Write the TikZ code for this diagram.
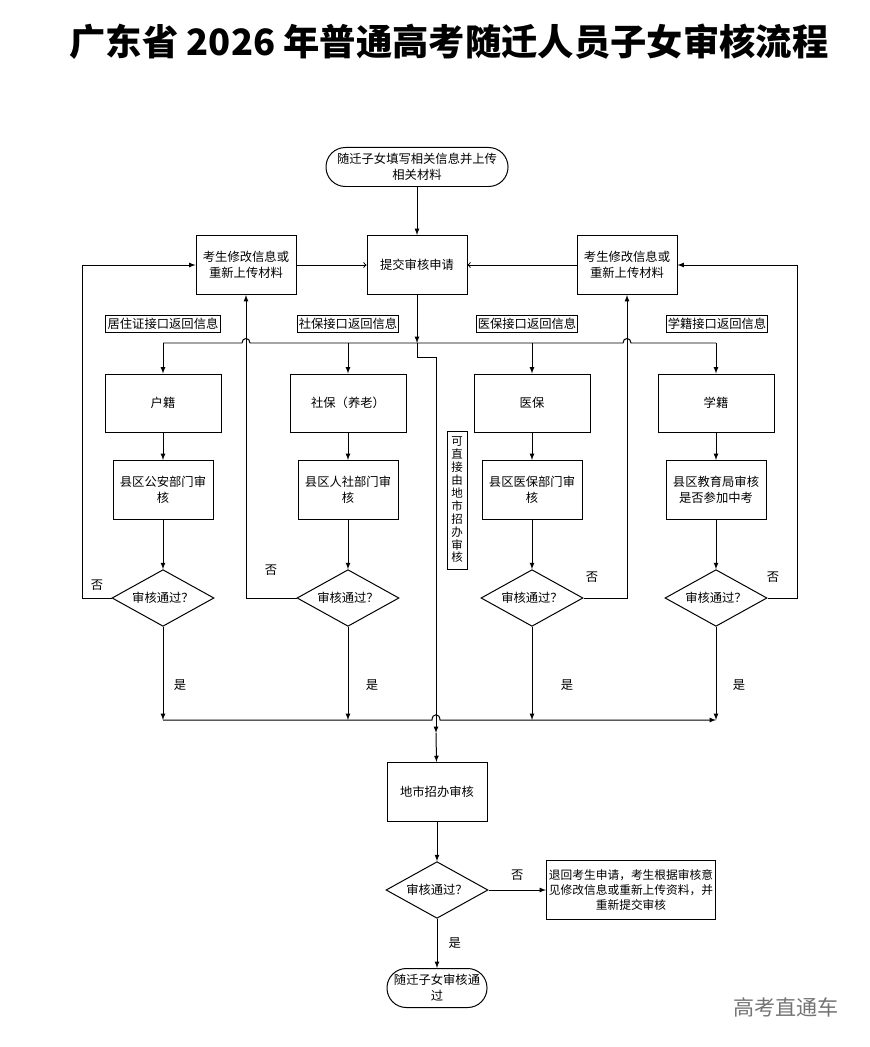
\documentclass[tikz,border=0pt]{standalone}
\usepackage{fontspec}
\setmainfont{Noto Sans CJK SC}
\usetikzlibrary{shapes.geometric}

\begin{document}
\begin{tikzpicture}[-latex, x=0.03cm, y=-0.03cm, line width=0.85pt,
            every node/.style={font=\fontsize{10.5}{13.5}\selectfont, align=center, inner sep=1pt},
            term/.style={draw, rounded corners=0.58cm, minimum width=5.46cm, minimum height=1.17cm},
            proc/.style={draw, rectangle, minimum width=3cm, minimum height=1.77cm},
            cat/.style={draw, rectangle, minimum width=3.48cm, minimum height=1.74cm},
            check/.style={draw, diamond, aspect=1.8, inner sep=0pt, minimum width=3.06cm, minimum height=1.7cm},
            tag/.style={draw, rectangle, inner sep=1.5pt, minimum height=0.5cm}]

        \useasboundingbox (0,0) rectangle (869,1047);

        %titulo
        \node[font=\fontsize{31}{36}\selectfont\bfseries] (title) at (449,42) {广东省 2026 年普通高考随迁人员子女审核流程};

        \node[term] (start) at (417,167) {随迁子女填写相关信息并上传\\相关材料};
        \node[proc] (submit) at (417,265) {提交审核申请};
        \node[proc] (fixL) at (246,265) {考生修改信息或\\重新上传材料};
        \node[proc] (fixR) at (627,265) {考生修改信息或\\重新上传材料};

        \node[tag] (tagA) at (163,324) {居住证接口返回信息};
        \node[tag] (tagB) at (348,324) {社保接口返回信息};
        \node[tag] (tagC) at (527,324) {医保接口返回信息};
        \node[tag] (tagD) at (717,324) {学籍接口返回信息};

        \node[cat] (catA) at (163,403) {户籍};
        \node[cat] (catB) at (348,403) {社保（养老）};
        \node[cat] (catC) at (532,403) {医保};
        \node[cat] (catD) at (716,403) {学籍};

        \node[proc] (depA) at (163,490) {县区公安部门审\\核};
        \node[proc] (depB) at (348,490) {县区人社部门审\\核};
        \node[proc] (depC) at (532,490) {县区医保部门审\\核};
        \node[proc] (depD) at (716,490) {县区教育局审核\\是否参加中考};

        \node[check] (chkA) at (163,598) {审核通过？};
        \node[check] (chkB) at (348,598) {审核通过？};
        \node[check] (chkC) at (532,598) {审核通过？};
        \node[check] (chkD) at (716,598) {审核通过？};

        \node[draw, inner sep=0pt, minimum width=0.6cm, minimum height=4.14cm,
              font=\fontsize{9.8}{11}\selectfont] (direct) at (457,500)
              {可\\直\\接\\由\\地\\市\\招\\办\\审\\核};

        \node[proc] (city) at (437,792) {地市招办审核};
        \node[check] (chkE) at (437,890) {审核通过？};
        \node[draw, rectangle, minimum width=5.07cm, minimum height=1.77cm,
              font=\fontsize{10}{12.5}\selectfont] (back) at (631,890)
              {退回考生申请，考生根据审核意\\见修改信息或重新上传资料，并\\重新提交审核};
        \node[term, minimum width=3cm] (done) at (437,988) {随迁子女审核通\\过};

        \node[text=black!55, font=\fontsize{18}{22}\selectfont] (mark) at (786,1007) {高考直通车};

        %puntos de las lineas
        \coordinate (jT) at (417,343);
        \coordinate (k1) at (417,357);
        \coordinate (k2) at (436,357);
        \coordinate (mB) at (436,733);
        \coordinate (busB) at (436,720);
        \coordinate (busT) at (436,343);
        \coordinate (rL) at (82,598);
        \coordinate (rR) at (797,598);

        \path (start) edge (submit);
        \path (fixL) edge[-to] (submit);
        \path (fixR) edge[-to] (submit);
        \draw (submit) -- (jT);
        \draw (jT) -- (k1) -- (k2) -- (mB);
        \draw (mB) -- (city);

        % linea superior con saltos
        \draw[-] (163,343) -- (242,343) .. controls (242,337) and (250,337) .. (250,343)
              -- (623,343) .. controls (623,337) and (631,337) .. (631,343) -- (716,343);
        % linea inferior
        \draw (163,720) -- (432,720) .. controls (432,713) and (440,713) .. (440,720) -- (716,720);

        \foreach \c in {A,B,C,D}{
            \draw (cat\c.north |- busT) -- (cat\c.north);
            \path (cat\c) edge (dep\c);
            \path (dep\c) edge (chk\c);
            \draw (chk\c.south) -- (chk\c.south |- busB);
        }

        \draw (chkA.west) -- (rL) |- (fixL.west);
        \draw (chkB.west) -| (fixL.south);
        \draw (chkC.east) -| (fixR.south);
        \draw (chkD.east) -- (rR) |- (fixR.east);

        \node (noA) at (97,585) {否};
        \node (noB) at (271,570) {否};
        \node (noC) at (592,577) {否};
        \node (noD) at (773,577) {否};
        \node (yesA) at (180,685) {是};
        \node (yesB) at (372,685) {是};
        \node (yesC) at (567,685) {是};
        \node (yesD) at (739,685) {是};

        \path (city) edge (chkE);
        \path (chkE) edge node[above = 0.25 cm] {否} (back);
        \path (chkE) edge node[right = 0.3 cm] {是} (done);
\end{tikzpicture}
\end{document}
